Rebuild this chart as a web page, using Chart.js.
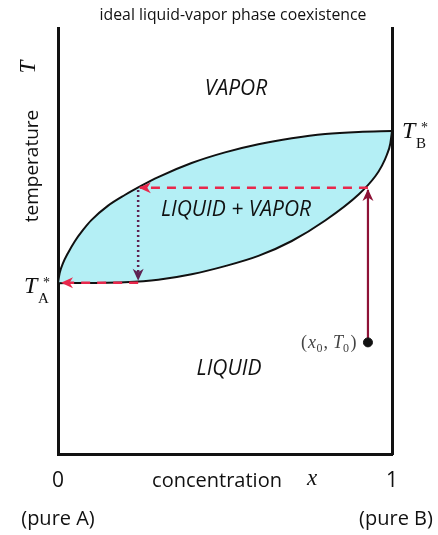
<!DOCTYPE html>
<html>
<head>
<meta charset="utf-8">
<script src="https://cdn.jsdelivr.net/npm/chart.js@4.4.1/dist/chart.umd.min.js"></script>
<style>
  html, body { margin: 0; padding: 0; background: #fff; }
  #c { display: block; }
</style>
</head>
<body>
<canvas id="c" width="438" height="535"></canvas>
<script>
// composition x (0 = pure A, 1 = pure B), temperature in reduced units
var vaporX  = [0, 0.005, 0.015, 0.03, 0.05, 0.075, 0.1, 0.15, 0.2, 0.25, 0.3, 0.4, 0.5, 0.6, 0.7, 0.8, 0.9, 1];
var vaporT  = [0.401, 0.425, 0.448, 0.472, 0.499, 0.526, 0.549, 0.583, 0.608, 0.630, 0.650, 0.683, 0.708, 0.727, 0.741, 0.751, 0.756, 0.758];
var liquidX = [0, 0.1, 0.2, 0.3, 0.4, 0.5, 0.6, 0.7, 0.8, 0.9, 0.95, 0.97, 0.985, 0.995, 1];
var liquidT = [0.401, 0.4015, 0.403, 0.409, 0.422, 0.441, 0.465, 0.5, 0.548, 0.609, 0.652, 0.677, 0.703, 0.729, 0.758];

var tA = 0.401, tB = 0.758;          // boiling points of pure A / pure B
var x0 = 0.928, T0 = 0.262;          // starting state (x0, T0)
var heatX = [x0, x0], heatT = [T0, 0.62];
var tieX = [x0, 0.245], tieT = [0.625, 0.625];
var dropX = [0.24, 0.24], dropT = [0.62, 0.409];
var backX = [0.24, 0.012], backT = [0.402, 0.402];

var xTickVals = [0, 1];
var xTickLabels = ['0', '1'];
var xTickNotes = ['(pure A)', '(pure B)'];

var regions = [
    { text: 'VAPOR', x: 0.533, y: 0.857 },
    { text: 'LIQUID + VAPOR', x: 0.533, y: 0.573 },
    { text: 'LIQUID', x: 0.512, y: 0.2 }
];

function pts(xs, ys) {
    return xs.map(function (x, i) { return { x: x, y: ys[i] }; });
}

var INK = '#111';
var RED = '#e8284c';
var DARKRED = '#8e1236';
var PURPLE = '#5e2352';
var SANS = '"Open Sans", sans-serif';
var SERIF = '"Liberation Serif", "DejaVu Serif", serif';

// arrow heads at the end of a dataset
var arrowHeads = {
    id: 'arrowHeads',
    afterDatasetsDraw: function (chart) {
        var ctx = chart.ctx;
        chart.data.datasets.forEach(function (ds, i) {
            if (!ds.arrow) return;
            var p = chart.getDatasetMeta(i).data;
            var a = p[p.length - 2], b = p[p.length - 1];
            var ang = Math.atan2(b.y - a.y, b.x - a.x);
            ctx.save();
            ctx.translate(b.x, b.y);
            ctx.rotate(ang);
            ctx.fillStyle = ds.borderColor;
            ctx.beginPath();
            ctx.moveTo(1, 0);
            ctx.lineTo(-11, -5.5);
            ctx.lineTo(-7.5, 0);
            ctx.lineTo(-11, 5.5);
            ctx.closePath();
            ctx.fill();
            ctx.restore();
        });
    }
};

function starT(ctx, x, y, sub) {
    ctx.textAlign = 'left';
    ctx.textBaseline = 'alphabetic';
    ctx.font = 'italic 24px ' + SERIF;
    ctx.fillText('T', x, y);
    ctx.font = '15px ' + SERIF;
    ctx.fillText(sub, x + 14, y + 10);
    ctx.font = '14px ' + SERIF;
    ctx.fillText('*', x + 19, y - 6);
}

// all the text around the diagram
var labels = {
    id: 'labels',
    afterDraw: function (chart) {
        var ctx = chart.ctx, xs = chart.scales.x, ys = chart.scales.y;
        var bottom = chart.chartArea.bottom;
        ctx.save();
        ctx.fillStyle = INK;
        ctx.textAlign = 'center';
        ctx.textBaseline = 'middle';

        ctx.font = '15.8px ' + SANS;
        ctx.fillText('ideal liquid-vapor phase coexistence', 233, 15);

        // regions
        ctx.font = 'italic 21px ' + SANS;
        regions.forEach(function (r) {
            ctx.fillText(r.text, xs.getPixelForValue(r.x), ys.getPixelForValue(r.y));
        });

        // x ticks
        xTickVals.forEach(function (v, i) {
            var px = xs.getPixelForValue(v);
            ctx.font = '21px ' + SANS;
            ctx.fillText(xTickLabels[i], px, bottom + 27);
            ctx.font = '20px ' + SANS;
            ctx.fillText(xTickNotes[i], px + (i ? 4 : 0), bottom + 65);
        });
        ctx.font = '20px ' + SANS;
        ctx.fillText('concentration', 217, bottom + 27);
        ctx.font = 'italic 23px ' + SERIF;
        ctx.fillText('x', 312, bottom + 25);

        // y title
        ctx.save();
        ctx.translate(33, 166);
        ctx.rotate(-Math.PI / 2);
        ctx.font = '19px ' + SANS;
        ctx.fillText('temperature', 0, 0);
        ctx.font = 'italic 23px ' + SERIF;
        ctx.fillText('T', 99, -4);
        ctx.restore();

        // boiling points
        starT(ctx, 24, ys.getPixelForValue(tA) + 10, 'A');
        starT(ctx, 402, ys.getPixelForValue(tB) + 7, 'B');

        // (x0, T0)
        var dx = xs.getPixelForValue(x0) - 67, dy = ys.getPixelForValue(T0) + 6;
        ctx.fillStyle = '#444';
        ctx.textAlign = 'left';
        ctx.textBaseline = 'alphabetic';
        var parts = [['(', '18px', 0, 1], ['x', 'italic 18px', 0, 0.5], ['0', '12px', 4, 1], [',', '18px', 0, 5],
            ['T', 'italic 18px', 0, 0], ['0', '12px', 4, 1.5], [')', '18px', 0, 0]];
        parts.forEach(function (p) {
            ctx.font = p[1] + ' ' + SERIF;
            ctx.fillText(p[0], dx, dy + p[2]);
            dx += ctx.measureText(p[0]).width + p[3];
        });
        ctx.restore();
    }
};

new Chart(document.getElementById('c'), {
    type: 'line',
    data: {
        datasets: [{
            label: 'vapor',
            data: pts(vaporX, vaporT),
            borderColor: INK,
            borderWidth: 2,
            backgroundColor: '#b4eff5',
            fill: '+1',
            pointRadius: 0,
            cubicInterpolationMode: 'monotone',
            order: 6
        }, {
            label: 'liquid',
            data: pts(liquidX, liquidT),
            borderColor: INK,
            borderWidth: 2,
            fill: false,
            pointRadius: 0,
            cubicInterpolationMode: 'monotone',
            order: 5
        }, {
            label: 'heat',
            data: pts(heatX, heatT),
            borderColor: DARKRED,
            borderWidth: 2.2,
            pointRadius: 0,
            arrow: true,
            order: 2
        }, {
            label: 'tie',
            data: pts(tieX, tieT),
            borderColor: RED,
            borderWidth: 2.5,
            borderDash: [9, 7],
            pointRadius: 0,
            arrow: true,
            order: 2
        }, {
            label: 'condense',
            data: pts(dropX, dropT),
            borderColor: PURPLE,
            borderWidth: 2.5,
            borderDash: [2, 3],
            pointRadius: 0,
            arrow: true,
            order: 2
        }, {
            label: 'back',
            data: pts(backX, backT),
            borderColor: RED,
            borderWidth: 2.5,
            borderDash: [9, 7],
            pointRadius: 0,
            arrow: true,
            order: 2
        }, {
            label: 'start',
            data: pts([x0], [T0]),
            showLine: false,
            pointRadius: 4.5,
            pointBackgroundColor: INK,
            pointBorderColor: INK,
            order: 1
        }]
    },
    options: {
        responsive: false,
        animation: false,
        devicePixelRatio: 1,
        layout: { padding: { left: 50, right: 38, top: 28, bottom: 73 } },
        plugins: {
            legend: { display: false },
            tooltip: { enabled: false },
            title: { display: false }
        },
        scales: {
            x: {
                type: 'linear', min: 0, max: 1,
                grid: { display: false },
                ticks: { display: false },
                border: { display: true, width: 3, color: INK }
            },
            y: {
                type: 'linear', min: 0, max: 1,
                grid: { display: false },
                ticks: { display: false },
                border: { display: true, width: 3, color: INK }
            },
            y2: {
                type: 'linear', position: 'right', min: 0, max: 1, display: true,
                grid: { display: false },
                ticks: { display: false },
                border: { display: true, width: 3, color: INK }
            }
        }
    },
    plugins: [arrowHeads, labels]
});
</script>
</body>
</html>
